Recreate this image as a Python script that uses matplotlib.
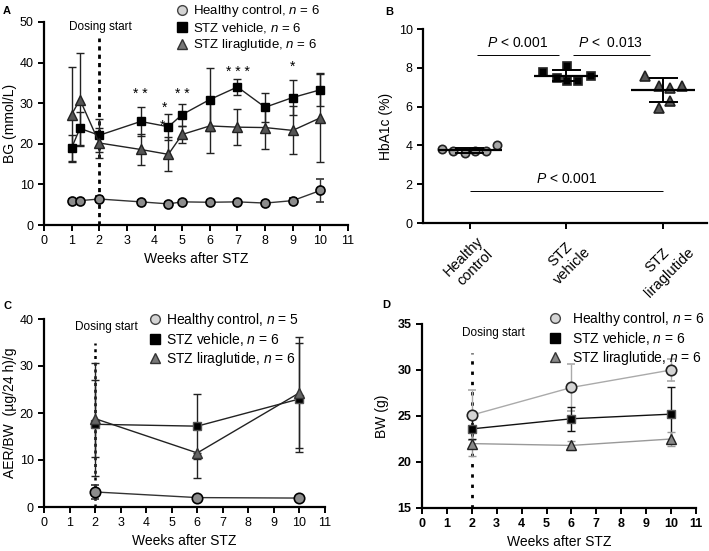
import numpy as np
import matplotlib
matplotlib.use("Agg")
import matplotlib.pyplot as plt
from matplotlib.lines import Line2D

plt.rcParams['font.family'] = ['Liberation Sans', 'DejaVu Sans']
plt.rcParams['mathtext.fontset'] = 'custom'
plt.rcParams['mathtext.it'] = 'Liberation Sans:italic'
plt.rcParams['mathtext.rm'] = 'Liberation Sans'

W, H = 709, 551

# ---- panel A data (blood glucose) ----
a_weeks = [1, 1.3, 2, 3.5, 4.5, 5, 6, 7, 8, 9, 10]
a_healthy = [5.8, 6.0, 6.4, 5.7, 5.2, 5.7, 5.6, 5.7, 5.4, 6.0, 8.5]
a_healthy_err = [0.5, 0.5, 0.8, 0.5, 0.5, 0.5, 0.5, 0.5, 0.5, 0.6, 2.9]
a_vehicle = [19.0, 23.8, 22.1, 25.5, 24.2, 27.2, 30.9, 34.0, 29.0, 31.4, 33.3]
a_vehicle_err = [3.2, 4.0, 4.0, 3.6, 3.2, 2.7, 7.8, 2.0, 3.6, 4.3, 4.1]
a_lira = [27.2, 30.9, 20.2, 18.6, 17.4, 22.3, 24.4, 24.1, 24.0, 23.3, 26.4]
a_lira_err = [11.8, 11.4, 3.8, 3.8, 4.2, 2.0, 6.6, 4.5, 5.2, 5.9, 10.8]
a_star_x = [3.5, 4.35, 4.3, 5, 7, 9]
a_star_y = [33.2, 29.9, 25.4, 33.2, 38.7, 39.9]
a_star_txt = ['* *', '*', '*', '* *', '* * *', '*']

# ---- panel B data (HbA1c) ----
b_groups = ['Healthy\ncontrol', 'STZ\nvehicle', 'STZ\nliraglutide']
b_healthy = [3.8, 3.7, 3.6, 3.7, 3.7, 4.0]
b_vehicle = [7.8, 7.45, 8.1, 7.3, 7.3, 7.6]
b_lira = [7.6, 7.05, 5.95, 6.95, 6.3, 7.05]
b_mean = [3.75, 7.6, 6.85]
b_sd = [0.12, 0.3, 0.6]
b_jitter = [[-0.28, -0.17, -0.05, 0.06, 0.17, 0.28],
            [-0.24, -0.10, 0.01, 0.01, 0.12, 0.25],
            [-0.19, -0.05, -0.05, 0.07, 0.07, 0.19]]

# ---- panel C data (AER/BW) ----
c_weeks = [2, 6, 10]
c_healthy = [3.2, 2.0, 1.9]
c_healthy_err = [1.5, 0.3, 0.3]
c_vehicle = [17.6, 17.2, 23.0]
c_vehicle_lo = [7.0, 6.9, 11.4]
c_vehicle_hi = [9.5, 6.9, 11.8]
c_lira = [18.8, 11.5, 24.3]
c_lira_lo = [12.2, 5.4, 11.8]
c_lira_hi = [11.8, 0.0, 11.8]

# ---- panel D data (body weight) ----
d_weeks = [2, 6, 10]
d_healthy = [25.1, 28.1, 30.0]
d_healthy_err = [2.7, 2.6, 1.2]
d_vehicle = [23.6, 24.7, 25.2]
d_vehicle_err = [1.1, 1.3, 3.0]
d_lira = [22.0, 21.8, 22.5]
d_lira_err = [1.4, 0.5, 0.8]


def px_axes(fig, left, right, top, bottom):
    return fig.add_axes([left / W, 1 - bottom / H, (right - left) / W, (bottom - top) / H])


def style(ax, fs=9):
    for s in ['top', 'right']:
        ax.spines[s].set_visible(False)
    for s in ['left', 'bottom']:
        ax.spines[s].set_linewidth(1.6)
    ax.tick_params(width=1.4, length=4, labelsize=fs)


def legend_handles(hc, vc, lc, labels):
    return [Line2D([], [], ls='none', marker='o', ms=7, mfc=hc, mec='#444444', mew=1, label=labels[0]),
            Line2D([], [], ls='none', marker='s', ms=6.5, mfc=vc, mec='black', label=labels[1]),
            Line2D([], [], ls='none', marker='^', ms=7.5, mfc=lc, mec='#333333', label=labels[2])]


fig = plt.figure(figsize=(W / 100, H / 100), dpi=100)

# ================= A =================
ax = px_axes(fig, 44, 348, 22, 225)
style(ax)
ax.errorbar(a_weeks, a_healthy, yerr=a_healthy_err, color='#333333', lw=1, marker='o', ms=6.5,
            mfc='#8c8c8c', mec='black', mew=1.2, capsize=3, elinewidth=1, zorder=3)
ax.errorbar(a_weeks, a_vehicle, yerr=a_vehicle_err, color='#222222', lw=1, marker='s', ms=6,
            mfc='black', mec='black', capsize=3, elinewidth=1, zorder=3)
ax.errorbar(a_weeks, a_lira, yerr=a_lira_err, color='#222222', lw=1, marker='^', ms=7.5,
            mfc='#555555', mec='#222222', capsize=3, elinewidth=1, zorder=3)
ax.plot([2, 2], [0, 46], ls=(0, (1.5, 1.5)), color='black', lw=2, zorder=2)
ax.text(2.05, 48.8, 'Dosing start', ha='center', va='center', fontsize=8.5)
for x, y, t in zip(a_star_x, a_star_y, a_star_txt):
    ax.text(x, y - 2.0, t, ha='center', va='baseline', fontsize=10, zorder=1)
ax.set_xlim(0, 11)
ax.set_ylim(0, 50)
ax.set_xticks(range(12))
ax.set_yticks(range(0, 51, 10))
ax.set_xlabel('Weeks after STZ', fontsize=10, labelpad=3)
ax.set_ylabel('BG (mmol/L)', fontsize=10, labelpad=2)
fig.legend(handles=legend_handles('#d4d4d4', 'black', '#777777',
                                  ['Healthy control, $n$ = 6', 'STZ vehicle, $n$ = 6',
                                   'STZ liraglutide, $n$ = 6']),
           loc='upper left', bbox_to_anchor=(169 / W, 1 + 2 / H), frameon=False, fontsize=9.5,
           handletextpad=0.2, labelspacing=0.15, borderaxespad=0, handlelength=1.2)
fig.text(3 / W, 1 - 11 / H, 'A', fontsize=8, fontweight='bold', va='center')

# ================= B =================
ax = px_axes(fig, 423, 707, 29, 223)
style(ax)
b_vals = [b_healthy, b_vehicle, b_lira]
b_marks = [('o', '#a6a6a6', 6), ('s', 'black', 5.5), ('^', '#555555', 6.5)]
for i, vals in enumerate(b_vals):
    xs = [i + j for j in b_jitter[i]]
    m, c, s = b_marks[i]
    ax.plot(xs, vals, ls='none', marker=m, ms=s, mfc=c, mec='#222222', mew=1.2, zorder=2)
    ax.hlines(b_mean[i], i - 0.33, i + 0.33, color='black', lw=1.6, zorder=3)
    ax.vlines(i, b_mean[i] - b_sd[i], b_mean[i] + b_sd[i], color='black', lw=1.4, zorder=3)
    ax.hlines([b_mean[i] - b_sd[i], b_mean[i] + b_sd[i]], i - 0.15, i + 0.15, color='black',
              lw=1.4, zorder=3)
ax.hlines(8.65, 0.08, 0.92, color='black', lw=0.7)
ax.hlines(8.65, 1.07, 1.86, color='black', lw=0.7)
ax.hlines(1.65, 0.0, 2.0, color='black', lw=0.7)
ax.text(0.5, 9.3, '$P$ < 0.001', ha='center', va='center', fontsize=10)
ax.text(1.46, 9.3, '$P$ <  0.013', ha='center', va='center', fontsize=10)
ax.text(1.0, 2.25, '$P$ < 0.001', ha='center', va='center', fontsize=10)
ax.set_xlim(-0.48, 2.45)
ax.set_ylim(0, 10)
ax.set_yticks(range(0, 11, 2))
ax.set_xticks(range(3))
ax.set_xticklabels(b_groups, rotation=45, ha='center', va='top', multialignment='center',
                   fontsize=10.5)
ax.set_ylabel('HbA1c (%)', fontsize=10, labelpad=4)
fig.text(385 / W, 1 - 12 / H, 'B', fontsize=8, fontweight='bold', va='center')

# ================= C =================
ax = px_axes(fig, 44, 325, 319, 507)
style(ax)
ax.plot([2, 2], [0, 35], ls=(0, (1.2, 1.5)), color='black', lw=1.8, zorder=2)
ax.errorbar(c_weeks, c_healthy, yerr=c_healthy_err, color='#333333', lw=1, marker='o', ms=7.5,
            mfc='#8c8c8c', mec='black', mew=1.2, capsize=3, elinewidth=1, zorder=3)
ax.errorbar(c_weeks, c_vehicle, yerr=[c_vehicle_lo, c_vehicle_hi], color='#222222', lw=1,
            marker='s', ms=5.5, mfc='black', mec='#555555', capsize=3, elinewidth=1, zorder=3)
ax.errorbar(c_weeks, c_lira, yerr=[c_lira_lo, c_lira_hi], color='#222222', lw=1, marker='^',
            ms=7.5, mfc='#666666', mec='#333333', capsize=3, elinewidth=1, zorder=3)
ax.text(2.45, 38.3, 'Dosing start', ha='center', va='center', fontsize=8.5)
ax.set_xlim(0, 11)
ax.set_ylim(0, 40)
ax.set_xticks(range(12))
ax.set_yticks(range(0, 41, 10))
ax.set_xlabel('Weeks after STZ', fontsize=10, labelpad=3)
ax.set_ylabel('AER/BW  (µg/24 h)/g', fontsize=10, labelpad=2)
fig.legend(handles=legend_handles('#d4d4d4', 'black', '#777777',
                                  ['Healthy control, $n$ = 5', 'STZ vehicle, $n$ = 6',
                                   'STZ liraglutide, $n$ = 6']),
           loc='upper left', bbox_to_anchor=(141 / W, 1 - 305 / H), frameon=False, fontsize=10,
           handletextpad=0.2, labelspacing=0.15, borderaxespad=0, handlelength=1.2)
fig.text(4 / W, 1 - 306 / H, 'C', fontsize=8, fontweight='bold', va='center')

# ================= D =================
ax = px_axes(fig, 422, 696, 324, 508)
style(ax)
ax.plot([2, 2], [15, 31.8], ls=(0, (1.2, 2.5)), color='black', lw=2, zorder=2)
ax.errorbar(d_weeks, d_healthy, yerr=d_healthy_err, color='#aaaaaa', lw=1, marker='o', ms=7.5,
            mfc='#d4d4d4', mec='#222222', mew=1.2, capsize=3, elinewidth=1, ecolor='#aaaaaa',
            zorder=3)
ax.errorbar(d_weeks, d_vehicle, yerr=d_vehicle_err, color='#111111', lw=1, marker='s', ms=5.5,
            mfc='black', mec='#555555', capsize=3, elinewidth=1, zorder=3)
ax.errorbar(d_weeks, d_lira, yerr=d_lira_err, color='#999999', lw=1, marker='^', ms=7.5,
            mfc='#888888', mec='#222222', capsize=3, elinewidth=1, ecolor='#999999', zorder=3)
ax.text(2.85, 34.0, 'Dosing start', ha='center', va='center', fontsize=8.5)
ax.set_xlim(0, 11)
ax.set_ylim(15, 35)
ax.set_xticks(range(12))
ax.set_yticks(range(15, 36, 5))
for lbl in ax.get_xticklabels() + ax.get_yticklabels():
    lbl.set_fontweight('bold')
ax.set_xlabel('Weeks after STZ', fontsize=10, labelpad=3)
ax.set_ylabel('BW (g)', fontsize=10, labelpad=6)
fig.legend(handles=legend_handles('#d4d4d4', 'black', '#888888',
                                  ['Healthy control, $n$ = 6', 'STZ vehicle, $n$ = 6',
                                   'STZ liraglutide, $n$ = 6']),
           loc='upper left', bbox_to_anchor=(541 / W, 1 - 304 / H), frameon=False, fontsize=10,
           handletextpad=0.6, labelspacing=0.15, borderaxespad=0, handlelength=1.2)
fig.text(382 / W, 1 - 305 / H, 'D', fontsize=8, fontweight='bold', va='center')

fig.savefig('out.png', dpi=100)
